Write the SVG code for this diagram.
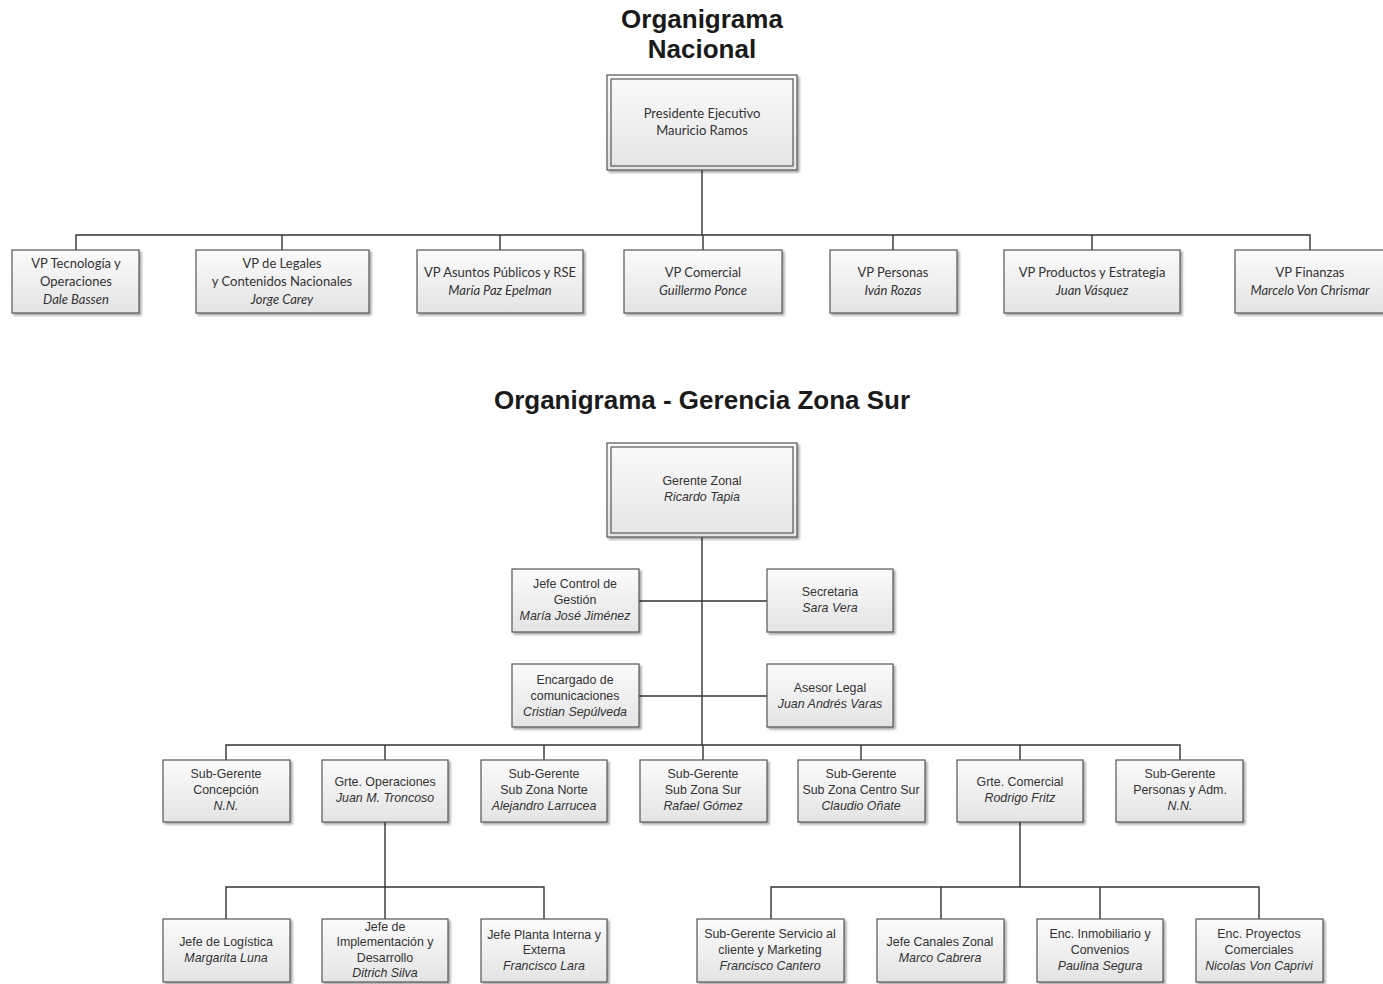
<svg xmlns="http://www.w3.org/2000/svg" width="1383" height="984" viewBox="0 0 1383 984">
  <defs>
    <linearGradient id="boxFill" x1="0" y1="0" x2="0" y2="1">
      <stop offset="0" stop-color="#fbfbfb"/>
      <stop offset="1" stop-color="#e4e4e4"/>
    </linearGradient>
    <filter id="shadow" x="-10%" y="-10%" width="130%" height="130%">
      <feDropShadow dx="2" dy="2" stdDeviation="1" flood-color="#000" flood-opacity="0.35"/>
    </filter>
  </defs>
  <style>
    .bg { fill: #ffffff; }
    .box { fill: url(#boxFill); stroke: #555; stroke-width: 1.2; filter: url(#shadow); }
    .inner { fill: none; stroke: #555; stroke-width: 1.2; }
    .title { font-family: "Liberation Sans", Arial, sans-serif; font-weight: bold; font-size: 26px; fill: #1a1a1a; text-anchor: middle; }
    .vp { font-family: Lato, "Open Sans", sans-serif; font-size: 13px; fill: #333; text-anchor: middle; }
    .zs { font-family: "Liberation Sans", Arial, sans-serif; font-size: 12.4px; fill: #333; text-anchor: middle; }
    .it { font-style: italic; }
    .conn { fill: none; stroke: #333; stroke-width: 1.4; }
  </style>
  <rect class="bg" x="0" y="0" width="1383" height="984"/>

  <!-- Titles -->
  <text class="title" x="702" y="28">Organigrama</text>
  <text class="title" x="702" y="58">Nacional</text>
  <text class="title" x="702" y="409">Organigrama - Gerencia Zona Sur</text>

  <!-- Connectors -->
  <g id="connectors">
    <!-- national chart -->
    <path class="conn" d="M702 170 V235 M76 250 V235 H1310 V250 M282 235 V250 M500 235 V250 M703 235 V250 M893 235 V250 M1092 235 V250"/>
    <!-- southern zone: trunk and staff -->
    <path class="conn" d="M702 537 V745"/>
    <path class="conn" d="M639 601 H767 M639 696 H767"/>
    <!-- southern zone: first level -->
    <path class="conn" d="M226 760 V745 H1180 V760 M385 745 V760 M544 745 V760 M703 745 V760 M861 745 V760 M1020 745 V760"/>
    <!-- operations team -->
    <path class="conn" d="M385 822 V887 M226 919 V887 H544 V919 M385 887 V919"/>
    <!-- commercial team -->
    <path class="conn" d="M1020 822 V887 M771 919 V887 H1259 V919 M941 887 V919 M1100 887 V919"/>
  </g>

  <!-- National chart -->
  <g id="presidente">
    <rect class="box" x="607" y="75" width="190" height="95"/>
    <rect class="inner" x="611" y="79" width="182" height="87"/>
    <text class="vp" x="702" y="118">Presidente Ejecutivo</text>
    <text class="vp" x="702" y="135">Mauricio Ramos</text>
  </g>
  <g id="vp-tecnologia">
    <rect class="box" x="12" y="250" width="127" height="63"/>
    <text class="vp" x="76" y="268">VP Tecnología y</text>
    <text class="vp" x="76" y="286">Operaciones</text>
    <text class="vp it" x="76" y="304">Dale Bassen</text>
  </g>
  <g id="vp-legales">
    <rect class="box" x="196" y="250" width="173" height="63"/>
    <text class="vp" x="282" y="268">VP de Legales</text>
    <text class="vp" x="282" y="286">y Contenidos Nacionales</text>
    <text class="vp it" x="282" y="304">Jorge Carey</text>
  </g>
  <g id="vp-asuntos">
    <rect class="box" x="417" y="250" width="166" height="63"/>
    <text class="vp" x="500" y="277">VP Asuntos Públicos y RSE</text>
    <text class="vp it" x="500" y="295">María Paz Epelman</text>
  </g>
  <g id="vp-comercial">
    <rect class="box" x="624" y="250" width="158" height="63"/>
    <text class="vp" x="703" y="277">VP Comercial</text>
    <text class="vp it" x="703" y="295">Guillermo Ponce</text>
  </g>
  <g id="vp-personas">
    <rect class="box" x="830" y="250" width="127" height="63"/>
    <text class="vp" x="893" y="277">VP Personas</text>
    <text class="vp it" x="893" y="295">Iván Rozas</text>
  </g>
  <g id="vp-productos">
    <rect class="box" x="1004" y="250" width="176" height="63"/>
    <text class="vp" x="1092" y="277">VP Productos y Estrategia</text>
    <text class="vp it" x="1092" y="295">Juan Vásquez</text>
  </g>
  <g id="vp-finanzas">
    <rect class="box" x="1235" y="250" width="152" height="63"/>
    <text class="vp" x="1310" y="277">VP Finanzas</text>
    <text class="vp it" x="1310" y="295">Marcelo Von Chrismar</text>
  </g>

  <!-- Southern zone chart -->
  <g id="gerente-zonal">
    <rect class="box" x="607" y="443" width="190" height="94"/>
    <rect class="inner" x="611" y="447" width="182" height="86"/>
    <text class="zs" x="702" y="485">Gerente Zonal</text>
    <text class="zs it" x="702" y="501">Ricardo Tapia</text>
  </g>
  <g id="jefe-control">
    <rect class="box" x="512" y="569" width="127" height="63"/>
    <text class="zs" x="575" y="588">Jefe Control de</text>
    <text class="zs" x="575" y="604">Gestión</text>
    <text class="zs it" x="575" y="620">María José Jiménez</text>
  </g>
  <g id="secretaria">
    <rect class="box" x="767" y="569" width="126" height="63"/>
    <text class="zs" x="830" y="596">Secretaria</text>
    <text class="zs it" x="830" y="612">Sara Vera</text>
  </g>
  <g id="encargado-comunicaciones">
    <rect class="box" x="512" y="664" width="127" height="63"/>
    <text class="zs" x="575" y="684">Encargado de</text>
    <text class="zs" x="575" y="700">comunicaciones</text>
    <text class="zs it" x="575" y="716">Cristian Sepúlveda</text>
  </g>
  <g id="asesor-legal">
    <rect class="box" x="767" y="664" width="126" height="63"/>
    <text class="zs" x="830" y="692">Asesor Legal</text>
    <text class="zs it" x="830" y="708">Juan Andrés Varas</text>
  </g>

  <g id="sg-concepcion">
    <rect class="box" x="163" y="760" width="127" height="62"/>
    <text class="zs" x="226" y="778">Sub-Gerente</text>
    <text class="zs" x="226" y="794">Concepción</text>
    <text class="zs it" x="226" y="810">N.N.</text>
  </g>
  <g id="grte-operaciones">
    <rect class="box" x="322" y="760" width="126" height="62"/>
    <text class="zs" x="385" y="786">Grte. Operaciones</text>
    <text class="zs it" x="385" y="802">Juan M. Troncoso</text>
  </g>
  <g id="sg-norte">
    <rect class="box" x="481" y="760" width="126" height="62"/>
    <text class="zs" x="544" y="778">Sub-Gerente</text>
    <text class="zs" x="544" y="794">Sub Zona Norte</text>
    <text class="zs it" x="544" y="810">Alejandro Larrucea</text>
  </g>
  <g id="sg-sur">
    <rect class="box" x="640" y="760" width="127" height="62"/>
    <text class="zs" x="703" y="778">Sub-Gerente</text>
    <text class="zs" x="703" y="794">Sub Zona Sur</text>
    <text class="zs it" x="703" y="810">Rafael Gómez</text>
  </g>
  <g id="sg-centro-sur">
    <rect class="box" x="798" y="760" width="127" height="62"/>
    <text class="zs" x="861" y="778">Sub-Gerente</text>
    <text class="zs" x="861" y="794">Sub Zona Centro Sur</text>
    <text class="zs it" x="861" y="810">Claudio Oñate</text>
  </g>
  <g id="grte-comercial">
    <rect class="box" x="957" y="760" width="126" height="62"/>
    <text class="zs" x="1020" y="786">Grte. Comercial</text>
    <text class="zs it" x="1020" y="802">Rodrigo Fritz</text>
  </g>
  <g id="sg-personas">
    <rect class="box" x="1116" y="760" width="127" height="62"/>
    <text class="zs" x="1180" y="778">Sub-Gerente</text>
    <text class="zs" x="1180" y="794">Personas y Adm.</text>
    <text class="zs it" x="1180" y="810">N.N.</text>
  </g>

  <g id="jefe-logistica">
    <rect class="box" x="163" y="919" width="127" height="63"/>
    <text class="zs" x="226" y="946">Jefe de Logística</text>
    <text class="zs it" x="226" y="962">Margarita Luna</text>
  </g>
  <g id="jefe-implementacion">
    <rect class="box" x="322" y="919" width="126" height="63"/>
    <text class="zs" x="385" y="931">Jefe de</text>
    <text class="zs" x="385" y="946">Implementación y</text>
    <text class="zs" x="385" y="962">Desarrollo</text>
    <text class="zs it" x="385" y="977">Ditrich Silva</text>
  </g>
  <g id="jefe-planta">
    <rect class="box" x="481" y="919" width="126" height="63"/>
    <text class="zs" x="544" y="939">Jefe Planta Interna y</text>
    <text class="zs" x="544" y="954">Externa</text>
    <text class="zs it" x="544" y="970">Francisco Lara</text>
  </g>
  <g id="sg-servicio-cliente">
    <rect class="box" x="697" y="919" width="147" height="63"/>
    <text class="zs" x="770" y="938">Sub-Gerente Servicio al</text>
    <text class="zs" x="770" y="954">cliente y Marketing</text>
    <text class="zs it" x="770" y="970">Francisco Cantero</text>
  </g>
  <g id="jefe-canales">
    <rect class="box" x="877" y="919" width="127" height="63"/>
    <text class="zs" x="940" y="946">Jefe Canales Zonal</text>
    <text class="zs it" x="940" y="962">Marco Cabrera</text>
  </g>
  <g id="enc-inmobiliario">
    <rect class="box" x="1037" y="919" width="126" height="63"/>
    <text class="zs" x="1100" y="938">Enc. Inmobiliario y</text>
    <text class="zs" x="1100" y="954">Convenios</text>
    <text class="zs it" x="1100" y="970">Paulina Segura</text>
  </g>
  <g id="enc-proyectos">
    <rect class="box" x="1196" y="919" width="127" height="63"/>
    <text class="zs" x="1259" y="938">Enc. Proyectos</text>
    <text class="zs" x="1259" y="954">Comerciales</text>
    <text class="zs it" x="1259" y="970">Nicolas Von Caprivi</text>
  </g>
</svg>
